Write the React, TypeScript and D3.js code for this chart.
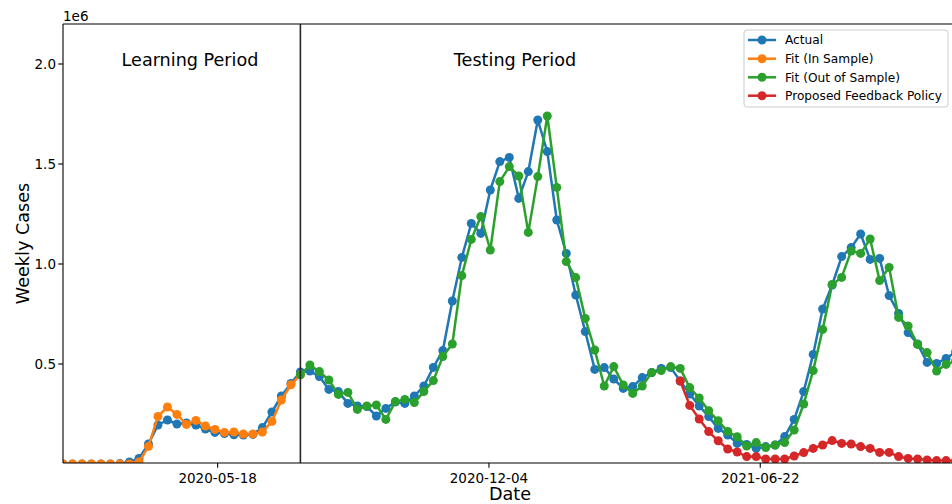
import React from "react";
import * as d3 from "d3";

// ---- Data (weekly, values in millions of cases) ----
const START_DATE = "2020-01-25"; // first weekly observation
const SPLIT_INDEX = 25; // end of learning period (week index)

const actual = [
  0, 0, 0, 0, 0, 0, 0.002, 0.01, 0.028, 0.1,
  0.195, 0.22, 0.2, 0.205, 0.195, 0.175, 0.158, 0.152, 0.146, 0.145,
  0.148, 0.182, 0.26, 0.34, 0.403, 0.46, 0.465, 0.437, 0.373, 0.362,
  0.303, 0.29, 0.287, 0.24, 0.278, 0.31, 0.303, 0.34, 0.39, 0.483,
  0.567, 0.815, 1.033, 1.203, 1.153, 1.37, 1.512, 1.533, 1.328, 1.462,
  1.72, 1.562, 1.22, 1.053, 0.845, 0.662, 0.473, 0.482, 0.425, 0.378,
  0.387, 0.432, 0.457, 0.478, 0.482, 0.415, 0.35, 0.29, 0.237, 0.178,
  0.145, 0.103, 0.098, 0.078, 0.087, 0.095, 0.137, 0.223, 0.362, 0.548,
  0.775, 0.895, 1.037, 1.082, 1.15, 1.023, 1.028, 0.842, 0.753, 0.657,
  0.6, 0.508, 0.503, 0.528, 0.56,
];

// Fit (In Sample): weeks 0..25
const fitInSample = [
  0, 0, 0, 0, 0, 0, 0, 0, 0.01, 0.088,
  0.238, 0.285, 0.248, 0.198, 0.218, 0.19, 0.173, 0.158, 0.16, 0.15,
  0.15, 0.16, 0.213, 0.32, 0.396, 0.446,
];

// Fit (Out of Sample): weeks 25..94
const FIT_OUT_START = 25;
const fitOutOfSample = [
  0.446, 0.495, 0.462, 0.42, 0.348, 0.358, 0.273, 0.29, 0.295, 0.223,
  0.312, 0.323, 0.307, 0.362, 0.417, 0.537, 0.6, 0.942, 1.123, 1.237,
  1.07, 1.412, 1.487, 1.44, 1.158, 1.437, 1.74, 1.383, 1.012, 0.932,
  0.728, 0.57, 0.39, 0.487, 0.395, 0.353, 0.39, 0.457, 0.467, 0.487,
  0.478, 0.382, 0.33, 0.266, 0.216, 0.163, 0.136, 0.09, 0.107, 0.082,
  0.095, 0.107, 0.17, 0.3, 0.467, 0.673, 0.898, 0.933, 1.065, 1.053,
  1.125, 0.917, 0.983, 0.733, 0.69, 0.598, 0.557, 0.465, 0.498, 0.515,
];

// Proposed Feedback Policy: weeks 65..94
const POLICY_START = 65;
const policy = [
  0.415, 0.293, 0.225, 0.162, 0.116, 0.075, 0.06, 0.037, 0.037, 0.025,
  0.025, 0.025, 0.04, 0.057, 0.078, 0.095, 0.117, 0.103, 0.1, 0.087,
  0.078, 0.058, 0.058, 0.037, 0.028, 0.025, 0.02, 0.017, 0.017, 0.015,
];

const xTickLabels = ["2020-05-18", "2020-12-04", "2021-06-22"];
const yTickValues = [0.5, 1.0, 1.5, 2.0];

const seriesNames = ["Actual", "Fit (In Sample)", "Fit (Out of Sample)", "Proposed Feedback Policy"];
const seriesColors = ["#1f77b4", "#ff7f0e", "#2ca02c", "#d62728"];

// ---- Layout ----
const W = 952;
const H = 504;
const L = 63;
const R = 955.6;
const T = 24;
const B = 463;
const FONT = "DejaVu Sans, Verdana, sans-serif";

const parse = d3.utcParse("%Y-%m-%d");
const start = parse(START_DATE) as Date;
const dateAt = (i: number) => d3.utcDay.offset(start, 7 * i);

type Pt = { d: Date; v: number };
const toPts = (vals: number[], offset: number): Pt[] =>
  vals.map((v, k) => ({ d: dateAt(offset + k), v }));

export default function App() {
  const x = d3.scaleUtc().domain([start, dateAt(actual.length - 1)]).range([L, R]);
  const y = d3.scaleLinear().domain([0.005, 2.2]).range([B, T]);

  const line = d3
    .line<Pt>()
    .x((p) => x(p.d))
    .y((p) => y(p.v));

  const series: Pt[][] = [
    toPts(actual, 0),
    toPts(fitInSample, 0),
    toPts(fitOutOfSample, FIT_OUT_START),
    toPts(policy, POLICY_START),
  ];

  const splitX = x(dateAt(SPLIT_INDEX));

  const legendRows = [40, 58.7, 77.3, 95.7];

  return (
    <svg
      width={W}
      height={H}
      style={{ position: "absolute", left: 0, top: 0, background: "#fff" }}
      fontFamily={FONT}
    >
      <defs>
        <clipPath id="plotclip">
          <rect x={L} y={T} width={R - L} height={B - T} />
        </clipPath>
      </defs>
      <rect x={0} y={0} width={W} height={H} fill="#fff" />

      {/* series */}
      <g clipPath="url(#plotclip)">
        {series.map((pts, si) => (
          <g key={si}>
            <path d={line(pts) || ""} fill="none" stroke={seriesColors[si]} strokeWidth={2.5} strokeLinejoin="round" />
            {pts.map((p, k) => (
              <circle key={k} cx={x(p.d)} cy={y(p.v)} r={4.5} fill={seriesColors[si]} />
            ))}
          </g>
        ))}
      </g>

      {/* split line */}
      <line x1={splitX} x2={splitX} y1={T} y2={B} stroke="#262626" strokeWidth={1.6} />

      {/* period labels */}
      <text x={190} y={65.5} fontSize={17.6} textAnchor="middle" fill="#000">
        Learning Period
      </text>
      <text x={515} y={65.5} fontSize={17.6} textAnchor="middle" fill="#000">
        Testing Period
      </text>

      {/* spines */}
      <line x1={L} x2={L} y1={T} y2={B} stroke="#000" strokeWidth={1.1} />
      <line x1={L} x2={W + 10} y1={T} y2={T} stroke="#000" strokeWidth={1.1} />
      <line x1={L} x2={W + 10} y1={B} y2={B} stroke="#000" strokeWidth={1.1} />

      {/* x ticks */}
      {xTickLabels.map((s) => {
        const xx = x(parse(s) as Date);
        return (
          <g key={s}>
            <line x1={xx} x2={xx} y1={B} y2={B + 4.8} stroke="#000" strokeWidth={1.1} />
            <text x={xx} y={483} fontSize={13.5} textAnchor="middle" fill="#000">
              {s}
            </text>
          </g>
        );
      })}

      {/* y ticks */}
      {yTickValues.map((v) => {
        const yy = y(v);
        return (
          <g key={v}>
            <line x1={L - 4.8} x2={L} y1={yy} y2={yy} stroke="#000" strokeWidth={1.1} />
            <text x={56} y={yy + 4.9} fontSize={13.5} textAnchor="end" fill="#000">
              {v.toFixed(1)}
            </text>
          </g>
        );
      })}
      <text x={L} y={21} fontSize={13.5} fill="#000">
        1e6
      </text>

      {/* axis labels */}
      <text x={510} y={500} fontSize={17.6} textAnchor="middle" fill="#000">
        Date
      </text>
      <text
        transform={`translate(28.5, ${(T + B) / 2}) rotate(-90)`}
        fontSize={17.6}
        textAnchor="middle"
        fill="#000"
      >
        Weekly Cases
      </text>

      {/* legend */}
      <rect x={744} y={30} width={204} height={77} rx={3} fill="#fff" fillOpacity={0.8} stroke="#ccc" strokeWidth={1} />
      {seriesNames.map((name, i) => (
        <g key={name}>
          <line x1={748} x2={776} y1={legendRows[i]} y2={legendRows[i]} stroke={seriesColors[i]} strokeWidth={2.5} />
          <circle cx={762} cy={legendRows[i]} r={4.5} fill={seriesColors[i]} />
          <text x={785} y={legendRows[i] + 4.4} fontSize={12.2} fill="#000">
            {name}
          </text>
        </g>
      ))}
    </svg>
  );
}
